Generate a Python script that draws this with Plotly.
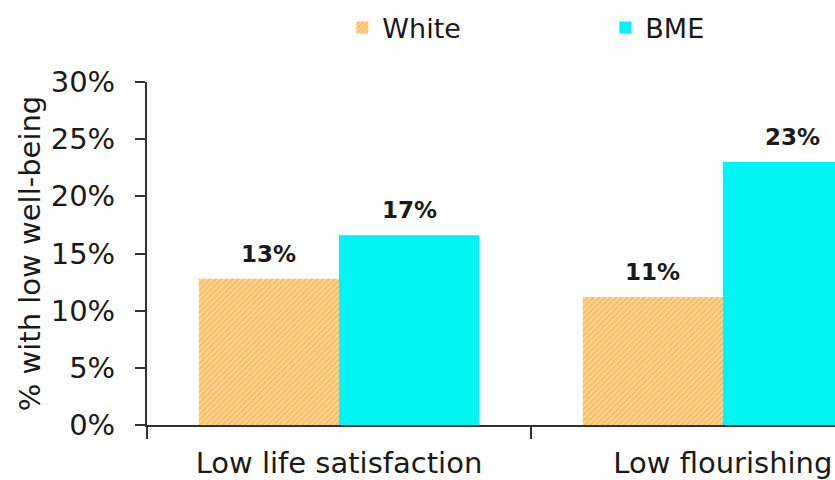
import plotly.graph_objects as go

# Share of people reporting low well-being, by ethnic group
categories = ["Low life satisfaction", "Low flourishing"]
white_pct = [12.8, 11.2]
bme_pct = [16.6, 23.0]
y_ticks = [0, 5, 10, 15, 20, 25, 30]

FONT = "DejaVu Sans"
BARGAP = 0.27
x_pos = list(range(len(categories)))

fig = go.Figure()
fig.add_trace(go.Bar(
    name="White", x=x_pos, y=white_pct,
    marker=dict(
        color="#F59B12",
        line=dict(width=0),
        pattern=dict(shape="/", fgcolor="#F59B12", bgcolor="#FFDCA8",
                     size=4, solidity=0.6),
    ),
))
fig.add_trace(go.Bar(
    name="BME", x=x_pos, y=bme_pct,
    marker=dict(color="#00F5F5", line=dict(width=0)),
))

# value labels above each bar
group = 1 - BARGAP
for vals, shift in ((white_pct, -group / 4), (bme_pct, group / 4)):
    for xi, v in zip(x_pos, vals):
        fig.add_annotation(
            x=xi + shift, y=v, text=f"<b>{v:.0f}%</b>",
            showarrow=False, yanchor="bottom", yshift=10,
            font=dict(family=FONT, size=23, color="#1a1a1a"),
        )

fig.update_layout(
    width=835, height=480,
    margin=dict(l=147, r=0, t=82, b=52),
    paper_bgcolor="white", plot_bgcolor="white",
    barmode="group", bargap=BARGAP, bargroupgap=0,
    font=dict(family=FONT, size=28, color="#1a1a1a"),
    legend=dict(
        orientation="h", xref="container", yref="container",
        x=0.41, y=0.993, xanchor="left", yanchor="top",
        entrywidth=218, entrywidthmode="pixels",
        font=dict(family=FONT, size=27, color="#1a1a1a"),
        bgcolor="rgba(0,0,0,0)",
    ),
    showlegend=True,
)

fig.update_xaxes(
    range=[-0.5, 1.292],
    tickmode="array", tickvals=x_pos, ticktext=categories,
    ticks="", ticklabelstandoff=11,
    showline=True, linecolor="#333333", linewidth=2,
    showgrid=False, zeroline=False,
    tickfont=dict(family=FONT, size=29, color="#1a1a1a"),
    minor=dict(tickmode="linear", tick0=0.5, dtick=1, ticks="outside",
               ticklen=12, tickwidth=2, tickcolor="#333333", showgrid=False),
)
fig.update_yaxes(
    range=[0, 30],
    tickmode="array", tickvals=y_ticks, ticktext=[f"{t}%" for t in y_ticks],
    ticks="outside", ticklen=10, tickwidth=2, tickcolor="#333333",
    ticklabelstandoff=14,
    showline=True, linecolor="#333333", linewidth=2,
    showgrid=False, zeroline=False,
    tickfont=dict(family=FONT, size=29, color="#1a1a1a"),
    title=dict(text="% with low well-being", standoff=2,
               font=dict(family=FONT, size=29, color="#1a1a1a")),
)

fig.write_html("out.html")
